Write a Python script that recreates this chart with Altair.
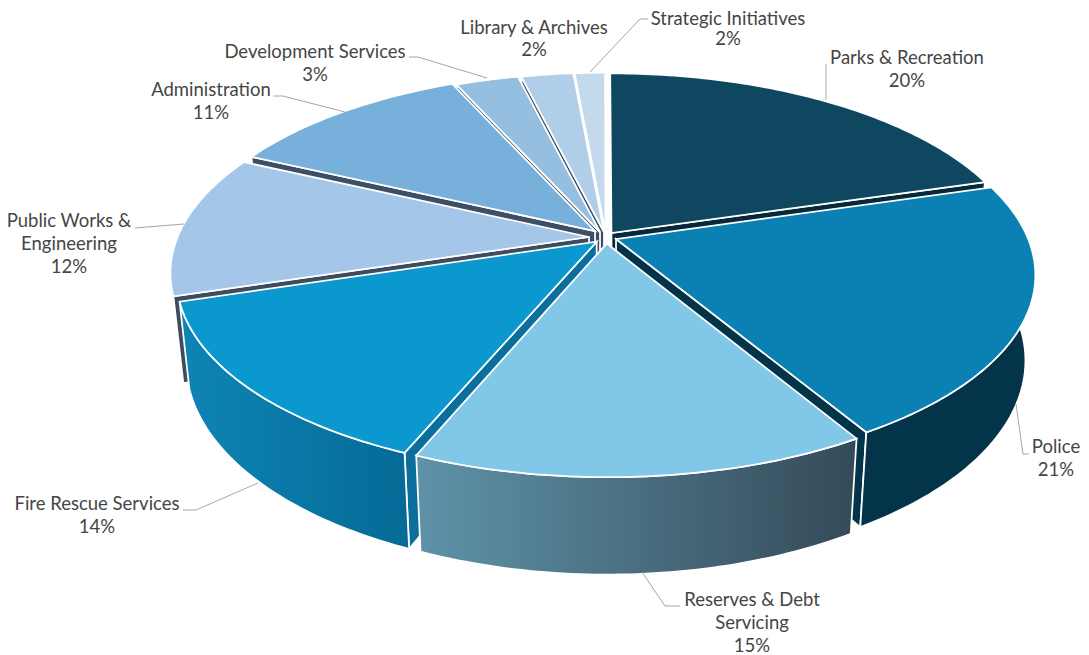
import math
import altair as alt
import pandas as pd

categories = ["Parks & Recreation", "Police", "Reserves & Debt Servicing", "Fire Rescue Services",
              "Public Works & Engineering", "Administration", "Development Services",
              "Library & Archives", "Strategic Initiatives"]
values = [20.4, 21.1, 14.8, 13.9, 11.8, 11.3, 2.9, 2.4, 1.4]

top_colors = ["#0f4761", "#0b80b3", "#81c7e7", "#0b98cf", "#a3c6e9", "#76b0db", "#95bfe0", "#b0cee7", "#c5d9ed"]
wall_colors = ["#07293c", "#03344a", "#34505f", "#0a6f9c", "#3d4c5e", "#3c4f64", "#3c4f64", "#3c4f64", "#ffffff"]
wall_gradient_stops = {
    1: ["#03344a", "#03344a"],
    2: ["#5f93a9", "#344a58"],
    3: ["#0e85b5", "#056a96"],
}

label_lines = [["Parks & Recreation", "20%"], ["Police", "21%"], ["Reserves & Debt", "Servicing", "15%"],
               ["Fire Rescue Services", "14%"], ["Public Works &", "Engineering", "12%"],
               ["Administration", "11%"], ["Development Services", "3%"], ["Library & Archives", "2%"],
               ["Strategic Initiatives", "2%"]]
label_anchor = [(907, 58), (1056, 447), (752, 600), (97, 504), (69, 221), (211, 90), (315, 52), (534, 28), (728, 19)]
line_gap = [23, 23, 23, 23, 23, 23, 23, 22, 20]
leaders = [[(826, 100), (826, 64)],
           [(1016, 404), (1023, 454), (1029, 454)],
           [(642, 572), (665, 606), (680, 606)],
           [(258, 483), (196, 510), (183, 510)],
           [(184, 224), (135, 228)],
           [(345, 112), (283, 96), (273, 96)],
           [(487, 78), (418, 57), (409, 57)],
           [],
           [(590, 72), (640, 19), (648, 19)]]

CX, CY = 603, 236
A, B, P = 411, 189, 0.178
slice_shift = [(8.5, -3), (13, 3), (3.7, 7.5), (-6.3, 5.7), (-14, 1), (-8, -5), (-3, -4), (1, -4), (2.5, -4)]
SHRINK_X, STRETCH_Y, DROP = 0.977, 1.06, 83


def project(u, v, off, bottom=False):
    uu, vv = u + off[0], v + off[1]
    den = 1 - P * vv
    x, y = A * uu / den, B * vv / den
    if bottom:
        x *= SHRINK_X
        y = y * STRETCH_Y + DROP
    return CX + x, CY + y


def arc(a0, a1, off, bottom=False):
    n = max(4, int(abs(a1 - a0) * 60))
    return [project(math.sin(a0 + (a1 - a0) * i / n), -math.cos(a0 + (a1 - a0) * i / n), off, bottom)
            for i in range(n + 1)]


def poly_layer(pts, fill):
    df = pd.DataFrame({"x": [p[0] for p in pts], "y": [p[1] for p in pts], "i": range(len(pts))})
    return alt.Chart(df).mark_line(fill=fill, stroke="white", strokeWidth=1.75, interpolate="linear-closed",
                                   strokeJoin="miter").encode(
        x=alt.X("x:Q", scale=XS, axis=None),
        y=alt.Y("y:Q", scale=YS, axis=None),
        order=alt.Order("i:Q"),
    )


XS = alt.Scale(domain=[8, 1081], nice=False, zero=False)
YS = alt.Scale(domain=[655, 8], nice=False, zero=False)

total = sum(values)
slices = []
acc = 0
for k, val in enumerate(values):
    a0, a1 = 2 * math.pi * acc / total, 2 * math.pi * (acc + val) / total
    acc += val
    m = (a0 + a1) / 2
    off = (slice_shift[k][0] / A, slice_shift[k][1] / B)
    slices.append((-math.cos(m), k, a0, a1, off))

layers = []
for vm, k, a0, a1, off in sorted(slices):
    apex_t, apex_b = project(0, 0, off), project(0, 0, off, True)
    for a, facing in ((a1, math.sin(a1)), (a0, -math.sin(a0))):
        if facing <= 0.001:
            continue
        rim_t = project(math.sin(a), -math.cos(a), off)
        rim_b = project(math.sin(a), -math.cos(a), off, True)
        layers.append(poly_layer([apex_t, rim_t, rim_b, apex_b], wall_colors[k]))
    if k in wall_gradient_stops:
        s = wall_gradient_stops[k]
        grad = alt.LinearGradient(gradient="linear", x1=0, y1=0, x2=1, y2=0,
                                  stops=[alt.GradientStop(offset=0, color=s[0]), alt.GradientStop(offset=1, color=s[1])])
        layers.append(poly_layer(arc(a0, a1, off) + arc(a1, a0, off, True), grad))
    layers.append(poly_layer([apex_t] + arc(a0, a1, off), top_colors[k]))

leader_rows = []
for k, pts in enumerate(leaders):
    for i, (x, y) in enumerate(pts):
        leader_rows.append({"k": k, "i": i, "x": x, "y": y})
layers.append(alt.Chart(pd.DataFrame(leader_rows)).mark_line(color="#a6a6a6", strokeWidth=1).encode(
    x=alt.X("x:Q", scale=XS, axis=None), y=alt.Y("y:Q", scale=YS, axis=None),
    detail="k:N", order=alt.Order("i:Q")))

text_rows = []
for lines, (x, y), gap in zip(label_lines, label_anchor, line_gap):
    for j, line in enumerate(lines):
        text_rows.append({"t": line, "x": x, "y": y + j * gap})
layers.append(alt.Chart(pd.DataFrame(text_rows)).mark_text(font="Lato", fontSize=18.5, color="#454545",
                                                           align="center", baseline="middle").encode(
    x=alt.X("x:Q", scale=XS, axis=None), y=alt.Y("y:Q", scale=YS, axis=None), text="t:N"))

chart = alt.layer(*layers).properties(width=1073, height=647, padding=0,
                                      autosize=alt.AutoSizeParams(type="none")).configure_view(stroke=None)
chart.save("out.html", embed_options={"renderer": "svg", "actions": False})
